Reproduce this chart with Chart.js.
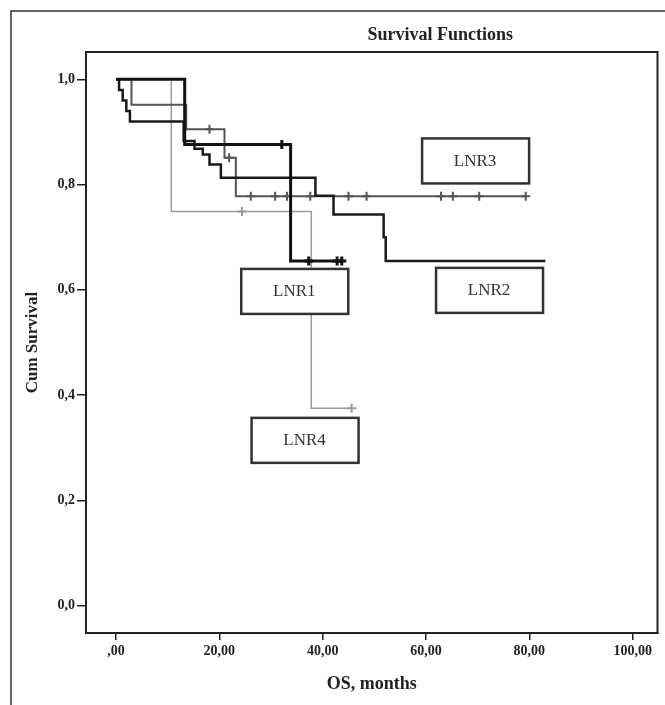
<!DOCTYPE html>
<html>
<head>
<meta charset="utf-8">
<script src="https://cdn.jsdelivr.net/npm/chart.js@4.4.1/dist/chart.umd.min.js"></script>
<style>
  html, body { margin:0; padding:0; background:#fff; }
  #wrap { width:665px; height:705px; }
</style>
</head>
<body>
<div id="wrap"><canvas id="myChart" width="665" height="705"></canvas></div>
<script>
// Kaplan-Meier steps: time (months), cum survival, censored (1) or event (0)
var lnr1Time = [0, 13.3, 32.1, 33.8, 37.3, 42.8, 43.7];
var lnr1Surv = [1, 0.876, 0.876, 0.655, 0.655, 0.655, 0.655];
var lnr1Cens = [0, 0, 1, 0, 1, 1, 1];

var lnr2Time = [0, 0.6, 1.3, 2.0, 2.7, 13.1, 15.2, 16.8, 18.1, 20.3, 38.6, 42.1, 51.8, 52.2, 83.1];
var lnr2Surv = [1, 0.98, 0.96, 0.94, 0.92, 0.883, 0.868, 0.857, 0.838, 0.813, 0.779, 0.743, 0.70, 0.655, 0.655];
var lnr2Cens = [0, 0, 0, 0, 0, 0, 0, 0, 0, 0, 0, 0, 0, 0, 0];

var lnr3Time = [0, 3.0, 13.6, 18.1, 21.0, 21.9, 23.2, 26.1, 30.8, 33.1, 37.6, 45.0, 48.5, 62.9, 65.2, 70.3, 79.3];
var lnr3Surv = [1, 0.952, 0.905, 0.905, 0.851, 0.851, 0.778, 0.778, 0.778, 0.778, 0.778, 0.778, 0.778, 0.778, 0.778, 0.778, 0.778];
var lnr3Cens = [0, 0, 0, 1, 0, 1, 0, 1, 1, 1, 1, 1, 1, 1, 1, 1, 1];

var lnr4Time = [0, 10.7, 24.4, 37.8, 45.6];
var lnr4Surv = [1, 0.749, 0.749, 0.375, 0.375];
var lnr4Cens = [0, 0, 1, 0, 1];

var xTicks = [0, 20, 40, 60, 80, 100];
var xTickLabels = [',00', '20,00', '40,00', '60,00', '80,00', '100,00'];
var yTicks = [0, 0.2, 0.4, 0.6, 0.8, 1.0];
var yTickLabels = ['0,0', '0,2', '0,4', '0,6', '0,8', '1,0'];

// group label boxes, centre in data units
var boxNames = ['LNR1', 'LNR2', 'LNR3', 'LNR4'];
var boxX = [34.5, 72.2, 69.5, 36.5];
var boxY = [0.598, 0.600, 0.846, 0.315];

var serif = '"Liberation Serif", "DejaVu Serif", serif';

function curve(label, t, s, c, color, width) {
    return {
        label: label,
        data: t.map(function(x, i) { return {x: x, y: s[i]}; }),
        stepped: 'before',
        borderColor: color,
        borderWidth: width,
        fill: false,
        pointStyle: 'cross',
        pointRadius: c.map(function(v) { return v ? 4.5 : 0; }),
        pointHoverRadius: 0,
        pointBorderColor: color,
        pointBorderWidth: Math.max(width, 2)
    };
}

var decor = {
    id: 'decor',
    beforeDraw: function(chart) {
        var ctx = chart.ctx;
        ctx.save();
        ctx.fillStyle = '#fff';
        ctx.fillRect(0, 0, chart.width, chart.height);
        ctx.strokeStyle = '#333';
        ctx.lineWidth = 1.5;
        ctx.beginPath();
        ctx.moveTo(11, chart.height);
        ctx.lineTo(11, 11);
        ctx.lineTo(chart.width, 11);
        ctx.stroke();
        ctx.restore();
    },
    afterDatasetsDraw: function(chart) {
        var ctx = chart.ctx, a = chart.chartArea;
        var xs = chart.scales.x, ys = chart.scales.y;
        ctx.save();
        ctx.strokeStyle = '#222';
        ctx.lineWidth = 2;
        ctx.strokeRect(a.left, a.top, a.right - a.left, a.bottom - a.top);

        ctx.fillStyle = '#222';
        ctx.font = 'bold 18px ' + serif;
        ctx.textAlign = 'center';
        ctx.textBaseline = 'middle';
        ctx.fillText('Survival Functions', a.left + 0.62 * (a.right - a.left), 35);

        ctx.font = '17px ' + serif;
        boxNames.forEach(function(n, i) {
            var cx = xs.getPixelForValue(boxX[i]), cy = ys.getPixelForValue(boxY[i]);
            ctx.fillStyle = '#fff';
            ctx.fillRect(cx - 53, cy - 22, 107, 45);
            ctx.strokeStyle = '#333';
            ctx.lineWidth = 2.5;
            ctx.strokeRect(cx - 53, cy - 22, 107, 45);
            ctx.fillStyle = '#333';
            ctx.fillText(n, cx, cy + 1);
        });
        ctx.restore();
    }
};

var ctx = document.getElementById('myChart').getContext('2d');
var myChart = new Chart(ctx, {
    type: 'line',
    data: {
        datasets: [
            curve('LNR1', lnr1Time, lnr1Surv, lnr1Cens, '#111', 3),
            curve('LNR2', lnr2Time, lnr2Surv, lnr2Cens, '#1a1a1a', 2.5),
            curve('LNR3', lnr3Time, lnr3Surv, lnr3Cens, '#555', 2),
            curve('LNR4', lnr4Time, lnr4Surv, lnr4Cens, '#9a9a9a', 1.5)
        ]
    },
    options: {
        responsive: false,
        animation: false,
        devicePixelRatio: 1,
        layout: { padding: { top: 52, right: 3, left: 0, bottom: 0 } },
        plugins: {
            legend: { display: false },
            tooltip: { enabled: false }
        },
        elements: { line: { tension: 0 } },
        scales: {
            x: {
                type: 'linear',
                min: -5.8,
                max: 104.8,
                afterBuildTicks: function(s) { s.ticks = xTicks.map(function(v) { return {value: v}; }); },
                afterFit: function(s) { s.height = 72; s.paddingRight = 0; s.paddingLeft = 0; },
                ticks: {
                    callback: function(v, i) { return xTickLabels[i]; },
                    font: { family: serif, size: 14, weight: 'bold' },
                    color: '#222',
                    padding: 3,
                    maxRotation: 0,
                    autoSkip: false
                },
                grid: { display: true, drawOnChartArea: false, drawTicks: true, tickLength: 7, color: '#222', lineWidth: 1.5 },
                border: { display: true, color: '#222', width: 2 },
                title: {
                    display: true,
                    text: 'OS, months',
                    font: { family: serif, size: 18, weight: 'bold' },
                    color: '#222',
                    padding: { top: 0, bottom: 10 }
                }
            },
            y: {
                type: 'linear',
                min: -0.052,
                max: 1.052,
                afterBuildTicks: function(s) { s.ticks = yTicks.map(function(v) { return {value: v}; }); },
                afterFit: function(s) { s.width = 86; },
                ticks: {
                    callback: function(v, i) { return yTickLabels[i]; },
                    font: { family: serif, size: 14, weight: 'bold' },
                    color: '#222',
                    padding: 2
                },
                grid: { display: true, drawOnChartArea: false, drawTicks: true, tickLength: 9, color: '#222', lineWidth: 1.5 },
                border: { display: true, color: '#222', width: 2 },
                title: {
                    display: true,
                    text: 'Cum Survival',
                    font: { family: serif, size: 17, weight: 'bold' },
                    color: '#222',
                    padding: { top: 22, bottom: 0 }
                }
            }
        }
    },
    plugins: [decor]
});
</script>
</body>
</html>
